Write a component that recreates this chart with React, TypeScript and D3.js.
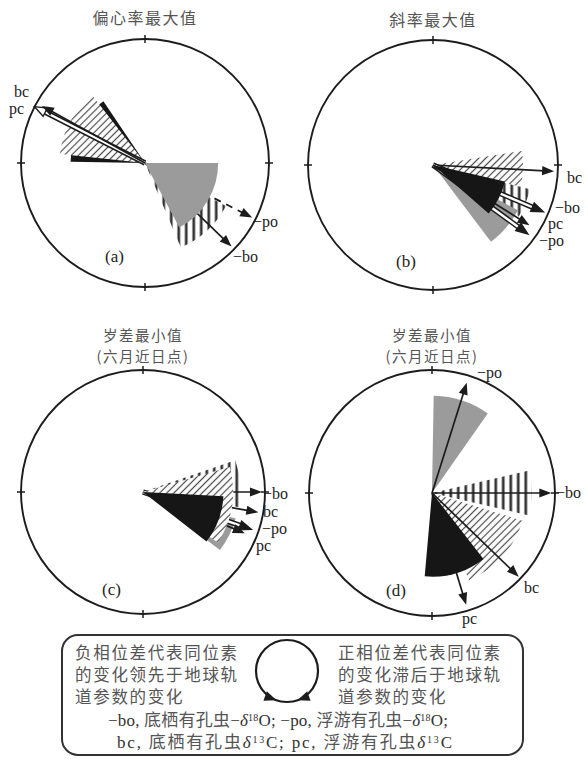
import React from "react";
import * as d3 from "d3";

const W = 588;
const H = 761;

// records shown on every phase wheel (order used by all arrays below)
const seriesKeys = ["−bo", "−po", "bc", "pc"];
const panelTags = ["(a)", "(b)", "(c)", "(d)"];
const panelTitles = [
  ["偏心率最大值"],
  ["斜率最大值"],
  ["岁差最小值", "(六月近日点)"],
  ["岁差最小值", "(六月近日点)"],
];

// phase of each record against the orbital parameter, degrees (negative = lead)
const phaseA = [134, 117, -61, -63];
const phaseB = [113, 126, 93, 122];
const phaseC = [90, 109, 100, 112];
const phaseD = [90, 17.5, 134, 163];

// arrow length as a fraction of the wheel radius
const lengthA = [0.97, 0.97, 0.95, 1.0];
const lengthB = [0.96, 0.94, 0.97, 0.91];
const lengthC = [0.975, 0.94, 0.96, 0.9];
const lengthD = [0.97, 0.94, 0.98, 0.95];

// phase uncertainty range [lo, hi] of each record, degrees
const rangeA = [[118, 157], [90, 152], [-84, -38], [-89, -34]];
const rangeB = [[104, 121], [118, 143], [81, 120], [103, 131]];
const rangeC = [[71, 99], [106, 127], [74, 124], [93, 128]];
const rangeD = [[77, 103], [1, 35], [107, 157], [142, 185]];

// radial reach of each uncertainty sector, fraction of radius
const reachA = [0.74, 0.59, 0.69, 0.6];
const reachB = [0.8, 0.77, 0.72, 0.59];
const reachC = [0.8, 0.79, 0.74, 0.66];
const reachD = [0.81, 0.79, 0.77, 0.68];

// legend lines
const leadText = ["负相位差代表同位素", "的变化领先于地球轨", "道参数的变化"];
const lagText = ["正相位差代表同位素", "的变化滞后于地球轨", "道参数的变化"];

type ArrowStyle = "solid" | "hollow" | "open" | "dashed";

interface PanelSpec {
  cx: number;
  cy: number;
  r: number;
  phase: number[];
  length: number[];
  range: number[][];
  reach: number[];
  arrowStyle: ArrowStyle[];
  layers: string[];
  labelAt: number[][];
  tagAt: number[];
  titleBase: number[];
  titleSize: number;
}

const panels: PanelSpec[] = [
  {
    cx: 145, cy: 163, r: 124,
    phase: phaseA, length: lengthA, range: rangeA, reach: reachA,
    arrowStyle: ["solid", "dashed", "solid", "open"],
    layers: ["s0", "a0", "a1", "s1", "s3", "s2", "a3", "a2"],
    labelAt: [[88, 99], [108, 64], [-131, -66], [-136, -49]],
    tagAt: [-40, 99],
    titleBase: [24],
    titleSize: 16,
  },
  {
    cx: 433, cy: 165, r: 125,
    phase: phaseB, length: lengthB, range: rangeB, reach: reachB,
    arrowStyle: ["hollow", "hollow", "solid", "solid"],
    layers: ["s2", "s0", "s1", "a2", "a1", "a0", "a3", "s3"],
    labelAt: [[122, 48], [106, 81], [134, 18], [115, 64]],
    tagAt: [-37, 102],
    titleBase: [26],
    titleSize: 16,
  },
  {
    cx: 143, cy: 492, r: 122,
    phase: phaseC, length: lengthC, range: rangeC, reach: reachC,
    arrowStyle: ["solid", "hollow", "solid", "solid"],
    layers: ["s0", "s1", "a0", "a2", "a1", "a3", "s2", "s3"],
    labelAt: [[120, 7], [119, 42], [120, 25], [113, 59]],
    tagAt: [-41, 103],
    titleBase: [341, 362],
    titleSize: 14.5,
  },
  {
    cx: 432, cy: 493, r: 123,
    phase: phaseD, length: lengthD, range: rangeD, reach: reachD,
    arrowStyle: ["solid", "solid", "solid", "solid"],
    layers: ["s1", "s0", "s2", "a1", "a0", "a2", "a3", "s3"],
    labelAt: [[124, 5], [45, -115], [92, 100], [30, 131]],
    tagAt: [-46, 103],
    titleBase: [341, 362],
    titleSize: 14.5,
  },
];

const seriesFill = ["url(#vbars)", "#9b9b9b", "url(#diag)", "#161616"];
const INK = "#1c1c1c";
const SERIF = "'Liberation Serif', 'Noto Sans CJK SC', serif";
const CJK = "'Noto Sans CJK SC', 'Noto Sans', sans-serif";

const angle = d3.scaleLinear().domain([-180, 180]).range([-Math.PI, Math.PI]);

function headPath(tx: number, ty: number, ux: number, uy: number, hl: number, hw: number) {
  const bx = tx - hl * ux;
  const by = ty - hl * uy;
  const px = -uy;
  const py = ux;
  const p = d3.path();
  p.moveTo(tx, ty);
  p.lineTo(bx + hw * px, by + hw * py);
  p.lineTo(bx - hw * px, by - hw * py);
  p.closePath();
  return p.toString();
}

function Arrow({ deg, len, style }: { deg: number; len: number; style: ArrowStyle }) {
  const a = angle(deg);
  const ux = Math.sin(a);
  const uy = -Math.cos(a);
  const tx = len * ux;
  const ty = len * uy;
  const hl = 12;
  const hw = 4.6;
  const bx = tx - (hl - 2) * ux;
  const by = ty - (hl - 2) * uy;
  const head = headPath(tx, ty, ux, uy, hl, hw);
  if (style === "hollow" || style === "open") {
    return (
      <g>
        <line x1={0} y1={0} x2={bx} y2={by} stroke={INK} strokeWidth={5.4} />
        <line x1={0} y1={0} x2={bx} y2={by} stroke="#fff" strokeWidth={2.4} />
        <path d={head} fill={style === "open" ? "#fff" : INK} stroke={INK} strokeWidth={1.3} strokeLinejoin="miter" />
      </g>
    );
  }
  return (
    <g>
      <line
        x1={0}
        y1={0}
        x2={bx}
        y2={by}
        stroke={INK}
        strokeWidth={style === "dashed" ? 1.8 : 1.7}
        strokeDasharray={style === "dashed" ? "7 6" : undefined}
      />
      <path d={head} fill={INK} />
    </g>
  );
}

function Wheel({ p, idx }: { p: PanelSpec; idx: number }) {
  const radial = d3.scaleLinear().domain([0, 1]).range([0, p.r]);
  const arc = d3.arc<any>();
  const ticks = [0, 90, 180, -90];

  const layer = (code: string) => {
    const i = Number(code.slice(1));
    if (code[0] === "s") {
      const [lo, hi] = p.range[i];
      const d = arc({
        innerRadius: 0,
        outerRadius: radial(p.reach[i]),
        startAngle: angle(lo),
        endAngle: angle(hi),
      }) as string;
      return <path key={code} d={d} fill={seriesFill[i]} />;
    }
    return <Arrow key={code} deg={p.phase[i]} len={radial(p.length[i])} style={p.arrowStyle[i]} />;
  };

  return (
    <g>
      {panelTitles[idx].map((t, k) => (
        <text
          key={k}
          x={p.cx}
          y={p.titleBase[k]}
          textAnchor="middle"
          fontFamily={CJK}
          fontSize={p.titleSize}
          letterSpacing={1.5}
          fill="#555"
        >
          {t}
        </text>
      ))}
      <g transform={`translate(${p.cx},${p.cy})`}>
        <circle r={p.r} fill="none" stroke={INK} strokeWidth={1.9} />
        {ticks.map((t) => {
          const a = angle(t);
          const s = Math.sin(a);
          const c = -Math.cos(a);
          return (
            <line
              key={t}
              x1={(p.r - 4) * s}
              y1={(p.r - 4) * c}
              x2={(p.r + 4) * s}
              y2={(p.r + 4) * c}
              stroke={INK}
              strokeWidth={1.5}
            />
          );
        })}
        {p.layers.map(layer)}
        {seriesKeys.map((k, i) => (
          <text
            key={k}
            x={p.labelAt[i][0]}
            y={p.labelAt[i][1]}
            fontFamily={SERIF}
            fontSize={16}
            fill="#222"
          >
            {k}
          </text>
        ))}
        <text x={p.tagAt[0]} y={p.tagAt[1]} fontFamily={SERIF} fontSize={17} fill="#222">
          {panelTags[idx]}
        </text>
      </g>
    </g>
  );
}

function Legend() {
  const cx = 287;
  const cy = 671;
  const r = 31;
  const heads = [160, -160].map((deg) => {
    const a = angle(deg);
    const tx = r * Math.sin(a);
    const ty = -r * Math.cos(a);
    // tangent pointing toward the bottom of the ring
    const sgn = deg > 0 ? 1 : -1;
    const ux = sgn * Math.cos(a);
    const uy = sgn * Math.sin(a);
    return headPath(cx + tx, cy + ty, ux, uy, 12, 5);
  });
  const sup = (s: string) => (
    <tspan baselineShift="super" fontSize={10}>
      {s}
    </tspan>
  );
  const delta = <tspan fontStyle="italic">δ</tspan>;
  return (
    <g>
      <rect x={62} y={635} width={461} height={120} rx={16} fill="#fff" stroke="#333" strokeWidth={2} />
      <circle cx={cx} cy={cy} r={r} fill="none" stroke={INK} strokeWidth={2.2} />
      {heads.map((d, i) => (
        <path key={i} d={d} fill={INK} />
      ))}
      {leadText.map((t, i) => (
        <text key={t} x={75} y={659 + 22 * i} fontFamily={CJK} fontSize={16.5} letterSpacing={1.7} fill="#555">
          {t}
        </text>
      ))}
      {lagText.map((t, i) => (
        <text key={t} x={338} y={659 + 22 * i} fontFamily={CJK} fontSize={16.5} letterSpacing={1.7} fill="#555">
          {t}
        </text>
      ))}
      <text x={108} y={726} fontFamily={SERIF} fontSize={17} fill="#333" textLength={340} lengthAdjust="spacing">
        −bo, <tspan fill="#555">底栖有孔虫</tspan>−{delta}
        {sup("18")}O; −po, <tspan fill="#555">浮游有孔虫</tspan>−{delta}
        {sup("18")}O;
      </text>
      <text x={117} y={748} fontFamily={SERIF} fontSize={17} fill="#333" textLength={335} lengthAdjust="spacing">
        bc, <tspan fill="#555">底栖有孔虫</tspan>
        {delta}
        {sup("13")}C; pc, <tspan fill="#555">浮游有孔虫</tspan>
        {delta}
        {sup("13")}C
      </text>
    </g>
  );
}

export default function App() {
  return (
    <svg
      width={W}
      height={H}
      viewBox={`0 0 ${W} ${H}`}
      style={{ position: "absolute", left: 0, top: 0, background: "#fff" }}
    >
      <defs>
        <pattern id="diag" patternUnits="userSpaceOnUse" width={5} height={5} patternTransform="rotate(45)">
          <rect width={5} height={5} fill="#fff" />
          <line x1={2.5} y1={0} x2={2.5} y2={5} stroke="#4a4a4a" strokeWidth={1.2} />
        </pattern>
        <pattern id="vbars" patternUnits="userSpaceOnUse" width={7.5} height={10}>
          <rect width={7.5} height={10} fill="#fff" />
          <rect x={2.4} y={0} width={2.7} height={10} fill="#333" />
        </pattern>
      </defs>
      <rect width={W} height={H} fill="#fff" />
      {panels.map((p, i) => (
        <Wheel key={i} p={p} idx={i} />
      ))}
      <Legend />
    </svg>
  );
}
